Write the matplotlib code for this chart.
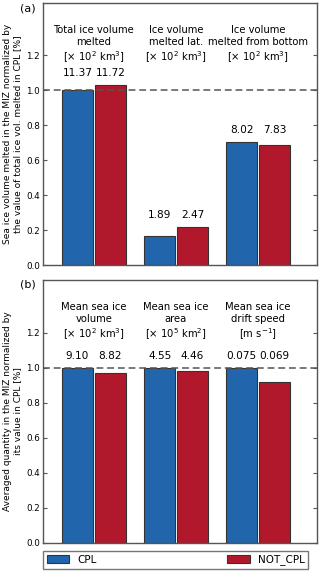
import numpy as np
import matplotlib
matplotlib.use('Agg')
import matplotlib.pyplot as plt

# Panel (a): melted volume, normalized by CPL total
titles_a = ['Total ice volume\nmelted\n[$\\times$ 10$^2$ km$^3$]',
            'Ice volume\nmelted lat.\n[$\\times$ 10$^2$ km$^3$]',
            'Ice volume\nmelted from bottom\n[$\\times$ 10$^2$ km$^3$]']
cpl_a = [1.0, 0.166, 0.705]
notcpl_a = [1.031, 0.217, 0.689]
labels_cpl_a = ['11.37', '1.89', '8.02']
labels_notcpl_a = ['11.72', '2.47', '7.83']

# Panel (b): averaged quantities normalized by CPL value
titles_b = ['Mean sea ice\nvolume\n[$\\times$ 10$^2$ km$^3$]',
            'Mean sea ice\narea\n[$\\times$ 10$^5$ km$^2$]',
            'Mean sea ice\ndrift speed\n[m s$^{-1}$]']
cpl_b = [1.0, 1.0, 1.0]
notcpl_b = [0.969, 0.980, 0.920]
labels_cpl_b = ['9.10', '4.55', '0.075']
labels_notcpl_b = ['8.82', '4.46', '0.069']

ylabel_a = 'Sea ice volume melted in the MIZ normalized by\nthe value of total ice vol. melted in CPL [%]'
ylabel_b = 'Averaged quantity in the MIZ normalized by\nits value in CPL [%]'

c_cpl = '#2166ac'
c_not = '#b2182b'
grey = '#555555'

plt.rcParams['font.family'] = 'DejaVu Sans'
plt.rcParams['mathtext.fontset'] = 'dejavusans'

fig = plt.figure(figsize=(3.2, 5.72), dpi=100)
ax_a = fig.add_axes([0.134, 0.5367, 0.857, 0.458])
ax_b = fig.add_axes([0.134, 0.0507, 0.857, 0.4598])

ind = np.arange(3)
w = 0.378
off = 0.2


def draw(ax, cpl, notcpl, lab_c, lab_n, titles, ylabel, tag, title_y):
    b1 = ax.bar(ind - off, cpl, w, color=c_cpl, edgecolor='#333333', linewidth=0.8, label='CPL', zorder=2)
    b2 = ax.bar(ind + off, notcpl, w, color=c_not, edgecolor='#333333', linewidth=0.8, label='NOT_CPL', zorder=2)
    ax.axhline(1.0, color=grey, ls=(0, (4.5, 2.5)), lw=1.1, zorder=3)
    for i in range(3):
        top = max(cpl[i], notcpl[i]) + 0.04
        ax.text(ind[i] - off, top, lab_c[i], ha='center', va='bottom', fontsize=7.6)
        ax.text(ind[i] + off, top, lab_n[i], ha='center', va='bottom', fontsize=7.6)
        ax.text(ind[i], title_y, titles[i], ha='center', va='top', fontsize=7.2, linespacing=1.25)
    ax.set_xlim(-0.622, 2.72)
    ax.set_ylim(0, 1.5)
    ax.set_yticks([0.0, 0.2, 0.4, 0.6, 0.8, 1.0, 1.2])
    ax.set_xticks([])
    ax.tick_params(axis='y', direction='in', right=True, labelsize=6.3, color=grey, length=3, pad=2)
    for s in ax.spines.values():
        s.set_color(grey)
        s.set_linewidth(1.0)
    ax.set_ylabel(ylabel, fontsize=6.5, labelpad=3)
    ax.text(-0.025, 1.0, tag, transform=ax.transAxes, ha='right', va='top', fontsize=8)
    return b1, b2


draw(ax_a, cpl_a, notcpl_a, labels_cpl_a, labels_notcpl_a, titles_a, ylabel_a, '(a)', 1.375)
b1, b2 = draw(ax_b, cpl_b, notcpl_b, labels_cpl_b, labels_notcpl_b, titles_b, ylabel_b, '(b)', 1.375)

leg = fig.legend([b1, b2], ['CPL', 'NOT_CPL'], loc='lower left', ncol=2, mode='expand',
                 bbox_to_anchor=(0.134, 0.005, 0.83, 0.037), fontsize=7.5, fancybox=False,
                 borderaxespad=0, handlelength=2.2, handleheight=0.8, borderpad=0.35)
leg.get_frame().set_edgecolor(grey)
leg.get_frame().set_linewidth(1.0)

fig.savefig('out.png', dpi=100)
